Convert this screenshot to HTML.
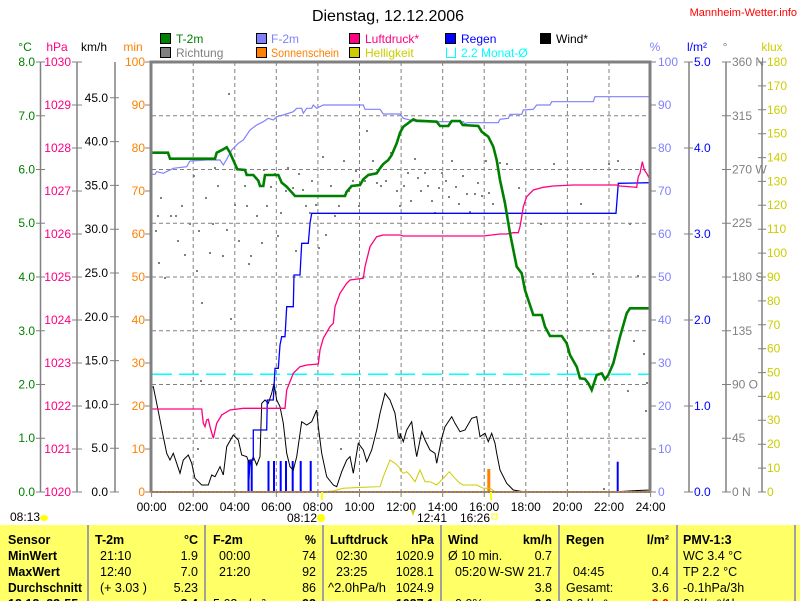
<!DOCTYPE html>
<html><head><meta charset="utf-8"><style>
html,body{margin:0;padding:0;background:#fff;width:800px;height:601px;overflow:hidden}
svg{display:block;font-family:"Liberation Sans",Arial,sans-serif}
.t{font-size:12px}
.tb{font-size:12.5px;font-weight:bold}
.tn{font-size:12.5px}
</style></head><body>
<svg width="800" height="601" viewBox="0 0 800 601" xmlns="http://www.w3.org/2000/svg">
<rect width="800" height="601" fill="#fff"/>
<text x="388" y="21" font-size="16" text-anchor="middle" fill="#000">Dienstag, 12.12.2006</text>
<text x="797" y="16" font-size="11" text-anchor="end" fill="#ff0000">Mannheim-Wetter.info</text>
<g class="t">
<rect x="160.5" y="33.5" width="10" height="10" fill="#008000" stroke="#000"/><text x="176" y="43" fill="#008000">T-2m</text>
<rect x="160.5" y="47.5" width="10" height="10" fill="#808080" stroke="#000"/><text x="176" y="57" fill="#808080">Richtung</text>
<rect x="256.5" y="33.5" width="10" height="10" fill="#8080ff" stroke="#000"/><text x="271" y="43" fill="#8080ff">F-2m</text>
<rect x="256.5" y="47.5" width="10" height="10" fill="#ff8000" stroke="#000"/><text x="271" y="57" fill="#ff8000" textLength="68" lengthAdjust="spacingAndGlyphs">Sonnenschein</text>
<rect x="349.5" y="33.5" width="10" height="10" fill="#ff0080" stroke="#000"/><text x="365" y="43" fill="#ff0080">Luftdruck*</text>
<rect x="349.5" y="47.5" width="10" height="10" fill="#cccc00" stroke="#000"/><text x="365" y="57" fill="#cccc00">Helligkeit</text>
<rect x="445.5" y="33.5" width="10" height="10" fill="#0000ff" stroke="#000"/><text x="461" y="43" fill="#0000ff">Regen</text>
<path d="M446.5 47.5 V57.5 H455.5 V47.5" fill="none" stroke="#00ffff"/><text x="461" y="57" fill="#00ffff">2.2 Monat-Ø</text>
<rect x="540.5" y="33.5" width="10" height="10" fill="#000" stroke="#000"/><text x="556" y="43" fill="#000">Wind*</text>
<text x="25" y="51" text-anchor="middle" fill="#008000">°C</text>
<text x="57" y="51" text-anchor="middle" fill="#ff0080">hPa</text>
<text x="94" y="51" text-anchor="middle" fill="#000">km/h</text>
<text x="133" y="51" text-anchor="middle" fill="#ff8000">min</text>
<text x="655" y="51" text-anchor="middle" fill="#8080ff">%</text>
<text x="697" y="51" text-anchor="middle" fill="#0000ff">l/m²</text>
<text x="725" y="51" text-anchor="middle" fill="#808080">°</text>
<text x="772" y="51" text-anchor="middle" fill="#cccc00">klux</text>
</g>
<g stroke="#808080" stroke-width="1.5" fill="none">
<path d="M40.5 62V492M77 62V492M115 62V492M689 62V492M726 62V492M762 62V492"/>
</g>
<g stroke="#808080" stroke-width="1" fill="none">
<path d="M36 492h9M36 438.25h9M36 384.5h9M36 330.75h9M36 277h9M36 223.25h9M36 169.5h9M36 115.75h9M36 62h9"/>
<path d="M72 492h10M72 449h10M72 406h10M72 363h10M72 320h10M72 277h10M72 234h10M72 191h10M72 148h10M72 105h10M72 62h10"/>
<path d="M110 492h9M110 448.2h9M110 404.4h9M110 360.6h9M110 316.8h9M110 273h9M110 229.2h9M110 185.4h9M110 141.6h9M110 97.8h9"/>
<path d="M145 492h6M145 449h6M145 406h6M145 363h6M145 320h6M145 277h6M145 234h6M145 191h6M145 148h6M145 105h6M145 62h6"/>
<path d="M650 492h6M650 449h6M650 406h6M650 363h6M650 320h6M650 277h6M650 234h6M650 191h6M650 148h6M650 105h6M650 62h6"/>
<path d="M684 492h9M684 406h9M684 320h9M684 234h9M684 148h9M684 62h9"/>
<path d="M722 492h9M722 438.25h9M722 384.5h9M722 330.75h9M722 277h9M722 223.25h9M722 169.5h9M722 115.75h9M722 62h9"/>
<path d="M758 492h8M758 468.1h8M758 444.2h8M758 420.3h8M758 396.4h8M758 372.6h8M758 348.7h8M758 324.8h8M758 300.9h8M758 277h8M758 253.1h8M758 229.2h8M758 205.3h8M758 181.4h8M758 157.6h8M758 133.7h8M758 109.8h8M758 85.9h8M758 62h8"/>
</g>
<g class="t">
<g fill="#008000" text-anchor="end">
<text x="35" y="496">0.0</text><text x="35" y="442">1.0</text><text x="35" y="388.5">2.0</text><text x="35" y="335">3.0</text><text x="35" y="281">4.0</text><text x="35" y="227">5.0</text><text x="35" y="173.5">6.0</text><text x="35" y="120">7.0</text><text x="35" y="66">8.0</text>
</g>
<g fill="#ff0080" text-anchor="end">
<text x="71" y="496">1020</text><text x="71" y="453">1021</text><text x="71" y="410">1022</text><text x="71" y="367">1023</text><text x="71" y="324">1024</text><text x="71" y="281">1025</text><text x="71" y="238">1026</text><text x="71" y="195">1027</text><text x="71" y="152">1028</text><text x="71" y="109">1029</text><text x="71" y="66">1030</text>
</g>
<g fill="#000" text-anchor="end">
<text x="108" y="496">0.0</text><text x="108" y="452">5.0</text><text x="108" y="408.5">10.0</text><text x="108" y="364.5">15.0</text><text x="108" y="321">20.0</text><text x="108" y="277">25.0</text><text x="108" y="233">30.0</text><text x="108" y="189.5">35.0</text><text x="108" y="145.5">40.0</text><text x="108" y="102">45.0</text>
</g>
<g fill="#ff8000" text-anchor="end">
<text x="145" y="496">0</text><text x="145" y="453">10</text><text x="145" y="410">20</text><text x="145" y="367">30</text><text x="145" y="324">40</text><text x="145" y="281">50</text><text x="145" y="238">60</text><text x="145" y="195">70</text><text x="145" y="152">80</text><text x="145" y="109">90</text><text x="145" y="66">100</text>
</g>
<g fill="#8080ff">
<text x="658" y="496">0</text><text x="658" y="453">10</text><text x="658" y="410">20</text><text x="658" y="367">30</text><text x="658" y="324">40</text><text x="658" y="281">50</text><text x="658" y="238">60</text><text x="658" y="195">70</text><text x="658" y="152">80</text><text x="658" y="109">90</text><text x="658" y="66">100</text>
</g>
<g fill="#0000ff">
<text x="694" y="496">0.0</text><text x="694" y="410">1.0</text><text x="694" y="324">2.0</text><text x="694" y="238">3.0</text><text x="694" y="152">4.0</text><text x="694" y="66">5.0</text>
</g>
<g fill="#808080" xml:space="preserve">
<text x="732" y="496">0   N</text><text x="732" y="442">45</text><text x="732" y="388.5">90  O</text><text x="732" y="335">135</text><text x="732" y="281">180 S</text><text x="732" y="227">225</text><text x="732" y="173.5">270 W</text><text x="732" y="120">315</text><text x="732" y="66">360 N</text>
</g>
<g fill="#cccc00">
<text x="767" y="496">0</text><text x="767" y="472">10</text><text x="767" y="448">20</text><text x="767" y="424">30</text><text x="767" y="400">40</text><text x="767" y="376.5">50</text><text x="767" y="352.5">60</text><text x="767" y="329">70</text><text x="767" y="305">80</text><text x="767" y="281">90</text><text x="767" y="257">100</text><text x="767" y="233">110</text><text x="767" y="209">120</text><text x="767" y="185.5">130</text><text x="767" y="161.5">140</text><text x="767" y="137.5">150</text><text x="767" y="114">160</text><text x="767" y="90">170</text><text x="767" y="66">180</text>
</g>
<g fill="#000" text-anchor="middle">
<text x="151.6" y="511">00:00</text><text x="193.2" y="511">02:00</text><text x="234.8" y="511">04:00</text><text x="276.3" y="511">06:00</text><text x="317.9" y="511">08:00</text><text x="359.5" y="511">10:00</text><text x="401.1" y="511">12:00</text><text x="442.7" y="511">14:00</text><text x="484.2" y="511">16:00</text><text x="525.8" y="511">18:00</text><text x="567.4" y="511">20:00</text><text x="609" y="511">22:00</text><text x="650.6" y="511">24:00</text>
</g>
</g>
<g stroke="#808080" stroke-width="1" stroke-dasharray="4,3" fill="none">
<path d="M152 438.25H650M152 384.5H650M152 330.75H650M152 277H650M152 223.25H650M152 169.5H650M152 115.75H650"/>
<path d="M193.2 62V492M234.8 62V492M276.3 62V492M317.9 62V492M359.5 62V492M401.1 62V492M442.7 62V492M484.2 62V492M525.8 62V492M567.4 62V492M609 62V492"/>
</g>
<path stroke="#808080" d="M151.6 492v5M193.2 492v5M234.8 492v5M276.3 492v5M317.9 492v5M359.5 492v5M401.1 492v5M442.7 492v5M484.2 492v5M525.8 492v5M567.4 492v5M609 492v5M650.6 492v5"/>
<path fill="#808080" d="M155 230h2v2h-2zM157 215h2v2h-2zM160 197h2v2h-2zM158 262h2v2h-2zM164 277h2v2h-2zM170 215h2v2h-2zM175 215h2v2h-2zM177 240h2v2h-2zM181 205h2v2h-2zM184 254h2v2h-2zM189 223h2v2h-2zM193 175h2v2h-2zM196 270h2v2h-2zM198 230h2v2h-2zM201 302h2v2h-2zM205 197h2v2h-2zM209 252h2v2h-2zM212 223h2v2h-2zM214 167h2v2h-2zM217 185h2v2h-2zM222 255h2v2h-2zM226 229h2v2h-2zM228 93h2v2h-2zM230 318h2v2h-2zM234 204h2v2h-2zM238 240h2v2h-2zM244 185h2v2h-2zM246 205h2v2h-2zM248 263h2v2h-2zM250 255h2v2h-2zM256 215h2v2h-2zM261 242h2v2h-2zM263 169h2v2h-2zM266 205h2v2h-2zM270 186h2v2h-2zM274 173h2v2h-2zM277 235h2v2h-2zM280 212h2v2h-2zM285 190h2v2h-2zM287 167h2v2h-2zM292 187h2v2h-2zM295 250h2v2h-2zM298 173h2v2h-2zM302 189h2v2h-2zM305 205h2v2h-2zM309 212h2v2h-2zM311 180h2v2h-2zM315 204h2v2h-2zM318 247h2v2h-2zM322 156h2v2h-2zM325 234h2v2h-2zM330 185h2v2h-2zM334 215h2v2h-2zM338 205h2v2h-2zM343 160h2v2h-2zM348 190h2v2h-2zM352 180h2v2h-2zM355 170h2v2h-2zM358 205h2v2h-2zM364 180h2v2h-2zM366 130h2v2h-2zM372 160h2v2h-2zM376 182h2v2h-2zM380 185h2v2h-2zM385 180h2v2h-2zM390 152h2v2h-2zM396 190h2v2h-2zM399 205h2v2h-2zM403 185h2v2h-2zM407 172h2v2h-2zM410 200h2v2h-2zM414 158h2v2h-2zM417 177h2v2h-2zM420 190h2v2h-2zM424 172h2v2h-2zM427 185h2v2h-2zM431 200h2v2h-2zM434 212h2v2h-2zM438 187h2v2h-2zM441 172h2v2h-2zM445 180h2v2h-2zM448 196h2v2h-2zM451 160h2v2h-2zM455 186h2v2h-2zM458 203h2v2h-2zM462 175h2v2h-2zM466 193h2v2h-2zM469 211h2v2h-2zM474 193h2v2h-2zM477 182h2v2h-2zM481 195h2v2h-2zM485 160h2v2h-2zM488 192h2v2h-2zM492 203h2v2h-2zM499 162h2v2h-2zM506 163h2v2h-2zM518 187h2v2h-2zM540 223h2v2h-2zM553 163h2v2h-2zM580 203h2v2h-2zM592 273h2v2h-2zM608 163h2v2h-2zM617 160h2v2h-2zM629 223h2v2h-2zM633 340h2v2h-2zM637 275h2v2h-2zM643 353h2v2h-2zM645 410h2v2h-2zM646 382h2v2h-2zM627 390h2v2h-2zM603 488h2v2h-2zM200 380h2v2h-2zM197 448h2v2h-2zM340 448h2v2h-2z"/>
<line x1="152" y1="374.3" x2="650" y2="374.3" stroke="#00ffff" stroke-width="1.5" stroke-dasharray="20,7"/>
<g fill="#0000ff">
<rect x="247.5" y="460" width="2" height="32"/><rect x="250.7" y="460" width="2" height="32"/>
<rect x="267.5" y="461" width="2" height="31"/><rect x="273" y="461" width="2" height="31"/>
<rect x="279.7" y="461" width="2" height="31"/><rect x="285" y="461" width="2" height="31"/>
<rect x="291.7" y="461" width="2" height="31"/><rect x="299.7" y="461" width="2" height="31"/>
<rect x="309.7" y="461" width="2" height="31"/><rect x="616.7" y="461.7" width="2" height="30"/>
</g>
<rect x="487.3" y="469" width="3" height="23" fill="#ff8000"/>
<polyline fill="none" stroke="#cccc00" stroke-width="1" points="320,491.7 333.3,491 343.3,488.3 363.3,487.3 380,486.7 383.3,476.7 390,460 395,463.3 400,468.3 400,470 403.3,473.3 406.7,471.7 410,475 415,481.7 420,470 425,481.7 430,481.7 436.7,485 443.3,478.3 449.3,471.7 455,478.3 460,483.3 463.3,485 476.7,485 483.3,488.3 490,488.3 495,491.7 500,491.7"/>
<polyline fill="none" stroke="#000" stroke-width="1" points="150,388.3 153.3,386.7 156.7,403.3 163.3,436.7 166.7,453.3 170,460 173.3,453.3 176.7,463.3 180,473.3 183.3,460 188.3,455 191.7,463.3 195,478.3 201.7,485 208.3,485 211.7,475 215,476.7 220,466.7 223.3,475 226.7,446.7 233.3,435 238.3,440 241.7,455 246.7,456.7 250,465 253.3,456.7 256.7,465 260,456.7 261.7,403.3 265,400 268.3,403.3 271.7,393.3 274,383.3 276.7,400 280,406.7 283.3,423.3 286.7,453.3 290,466.7 293.3,470 296.7,456.7 301.7,421.7 306.7,425 311.7,421.7 316.7,410 318.3,426.7 321.7,453.3 326.7,476.7 333.3,485 336.7,486.7 341.7,471.7 346.7,460 350,456.7 353.3,473.3 358.3,443.3 363.3,450 366.7,461.7 371.7,450 376.7,430 380,413.3 385,393.3 390,400 395,413.3 398.3,436.7 400,438.3 400,433.3 403.3,441.7 406.7,430 411.7,421.7 415,446.7 416.7,456.7 421.7,431.7 425,440 430,450 435,453.3 436.7,463.3 441.7,438.3 445,426.7 451.7,416.7 455,423.3 460,431.7 465,430 471.7,418.3 476.7,416.7 480,436.7 485,433.3 488.3,441.7 491.7,433.3 495,443.3 496.7,453.3 500,470 506.7,483.3 513.3,490 523.3,491.7 616.7,491.7 633.3,490.7 650,490"/>
<polyline fill="none" stroke="#0000ff" stroke-width="1.3" points="248.3,491.7 250,460 253.3,460 253.3,430 266.7,430 267.3,400 273.3,400 275,368.3 278.3,368.3 280,345 281.7,336.7 285,336.7 286.7,306.7 293.3,306.7 294,275 300,275 301.7,243.3 308.3,243.3 310,223.3 311.7,213.3 400,213.3 616,213.3 618.3,183.3 650,182.7"/>
<polyline fill="none" stroke="#ff0080" stroke-width="1.3" points="150,409 201.7,409 203.3,423.3 205,426.7 206.7,420 208.3,419.3 210,426.7 213.3,438.3 216.7,423.3 221.7,415 230,410 243.3,408.3 285,408.3 286.7,390 293.3,373.3 300,366.7 306.7,365 318.3,364 320,350 323.3,338.3 330,326.7 333.3,323.3 335,306.7 340,293.3 346.7,283.3 350,280 363.3,278.3 365,266.7 370,246.7 376.7,236.7 383.3,235 400,235 403.3,236 483.3,236 500,234 506.7,234 513.3,232.7 518.3,232.7 520,226.7 521.7,216.7 523.3,206.7 526.7,196.7 533.3,190 543.3,187.3 553.3,186 573.3,185 616.7,185 620,186 636.7,187.3 638.3,176.7 640,173.3 642.3,161.7 644.3,170 646.7,173.3 649.3,178.3"/>
<polyline fill="none" stroke="#8080ff" stroke-width="1.2" points="150,174.3 155,174.3 156.7,171.7 163.3,173.3 173.3,168.3 186.7,166.7 190,161 206.7,160 220,160 223.3,165 226.7,159.3 231.7,150 238.3,143.3 243.3,140 250,130 256.7,125 263.3,121.7 268.3,118.3 273.3,120 276.7,116.7 283.3,115 293.3,111.7 296.7,108.3 301.7,108.3 303.3,113.3 306.7,108.3 311.7,108.3 313.3,105 316.7,108.3 323.3,105 363.3,105 365,109.3 380,109.3 383.3,114 400,114 403.3,118.3 416.7,121.7 463.3,121.7 465,124 466.7,122.7 498.3,122.7 500,119.3 508.3,118.3 510,114.3 521.7,114.3 523.3,110 533.3,109.3 536.7,105 550,105 551.7,101.7 593.3,101.7 595,96.7 650,96.7"/>
<polyline fill="none" stroke="#008000" stroke-width="2.6" points="150,152.7 168,152.7 170,158.7 215,158.7 216.7,152.7 223.3,149.3 226.7,147.3 230,152.7 237.3,169.3 245,170 246.7,175 253.3,175 258.3,180.7 260,186 263.3,186 265,175 278.3,175 281.7,182.7 286.7,186.7 295,196 345,196 346.7,191.7 351.7,186 360,185 363.3,179.3 368.3,175 376.7,173.3 380,168.3 383.3,164 388.3,160 391.7,155 396.7,143.3 400,132.7 403.3,126.7 413.3,119.3 416.7,120.7 436.7,121.7 440,126 448.3,126 451.7,121 460,121 462.7,125 478.3,126 481.7,131.7 488.3,136.7 493.3,146.7 496.7,160 500,180 505,203.3 510,233.3 516.7,266.7 521.7,273.3 525,290 528.3,300 533.3,315 541.7,315 545,326.7 550,336 561.7,336 566.7,343.3 570,355 576.7,366.7 580,378.3 585,379 588.3,383.3 591.7,390 596.7,375 601.7,373.3 605,379.3 608.3,375 613.3,363.3 620,336.7 626.7,313.3 630,308.3 650,308.3"/>
<path d="M151 492 V62 H650 V492" fill="none" stroke="#808080" stroke-width="3"/>
<line x1="150" y1="492" x2="651" y2="492" stroke="#808080" stroke-width="2"/>
<line x1="150" y1="492" x2="651" y2="492" stroke="#ff8000" stroke-width="1" stroke-dasharray="2,2"/>
<line x1="322" y1="492" x2="322" y2="500" stroke="#ffff00" stroke-width="2"/>
<line x1="491" y1="492" x2="491" y2="500" stroke="#ffff00" stroke-width="2"/>
<g class="t" fill="#000">
<text x="10" y="521">08:13</text><ellipse cx="44" cy="518" rx="4" ry="3" fill="#ffff00"/>
<text x="287" y="522">08:12</text><circle cx="321" cy="518" r="4" fill="#ffff00"/>
<text x="417" y="522">12:41</text><path d="M411 510 l2 6 l2 -6z" fill="#cccc00"/>
<text x="460" y="522">16:26</text><rect x="492" y="514" width="5" height="5" fill="none" stroke="#ffff00"/>
</g>
<rect x="0" y="525" width="800" height="76" fill="#ffff66"/>
<g stroke="#a0a0a0" stroke-width="2">
<line x1="88" y1="525" x2="88" y2="601"/><line x1="205" y1="525" x2="205" y2="601"/><line x1="323" y1="525" x2="323" y2="601"/><line x1="441" y1="525" x2="441" y2="601"/><line x1="559" y1="525" x2="559" y2="601"/><line x1="677" y1="525" x2="677" y2="601"/><line x1="795" y1="525" x2="795" y2="601"/>
</g>
<g fill="#000">
<g class="tb"><text x="8" y="544">Sensor</text><text x="8" y="560">MinWert</text><text x="8" y="576">MaxWert</text><text x="8" y="592" textLength="74" lengthAdjust="spacingAndGlyphs">Durchschnitt</text><text x="8" y="608">12.12. 23:55</text>
<text x="95" y="544">T-2m</text><text x="198" y="544" text-anchor="end">°C</text>
<text x="213" y="544">F-2m</text><text x="316" y="544" text-anchor="end">%</text>
<text x="330" y="544" textLength="58" lengthAdjust="spacingAndGlyphs">Luftdruck</text><text x="434" y="544" text-anchor="end">hPa</text>
<text x="448" y="544">Wind</text><text x="552" y="544" text-anchor="end">km/h</text>
<text x="566" y="544">Regen</text><text x="669" y="544" text-anchor="end">l/m²</text>
<text x="683" y="544">PMV-1:3</text>
<text x="198" y="608" text-anchor="end">3.4</text><text x="316" y="608" text-anchor="end">92</text><text x="434" y="608" text-anchor="end">1027.1</text><text x="552" y="608" text-anchor="end">0.0</text><text x="669" y="608" text-anchor="end" fill="#ff0000">0.0</text></g>
<g class="tn">
<text x="100" y="560">21:10</text><text x="198" y="560" text-anchor="end">1.9</text>
<text x="100" y="576">12:40</text><text x="198" y="576" text-anchor="end">7.0</text>
<text x="100" y="592">(+ 3.03 )</text><text x="198" y="592" text-anchor="end">5.23</text>
<text x="219" y="560">00:00</text><text x="316" y="560" text-anchor="end">74</text>
<text x="219" y="576">21:20</text><text x="316" y="576" text-anchor="end">92</text>
<text x="316" y="592" text-anchor="end">86</text><text x="213" y="608">5.62 g/m³</text>
<text x="336" y="560">02:30</text><text x="434" y="560" text-anchor="end">1020.9</text>
<text x="336" y="576">23:25</text><text x="434" y="576" text-anchor="end">1028.1</text>
<text x="328" y="592" textLength="58" lengthAdjust="spacingAndGlyphs">^2.0hPa/h</text><text x="434" y="592" text-anchor="end">1024.9</text>
<text x="448" y="560">Ø 10 min.</text><text x="552" y="560" text-anchor="end">0.7</text>
<text x="455" y="576">05:20</text><text x="552" y="576" text-anchor="end">W-SW 21.7</text>
<text x="552" y="592" text-anchor="end">3.8</text><text x="455" y="608">0.0%</text>
<text x="573" y="576">04:45</text><text x="669" y="576" text-anchor="end">0.4</text>
<text x="566" y="592">Gesamt:</text><text x="669" y="592" text-anchor="end">3.6</text><text x="566" y="608">3.6 l/m²</text>
<text x="683" y="560">WC 3.4 °C</text><text x="683" y="576">TP 2.2 °C</text><text x="683" y="592">-0.1hPa/3h</text><text x="683" y="608">0.0l/m²/1h</text>
</g></g>
</svg>
</body></html>
